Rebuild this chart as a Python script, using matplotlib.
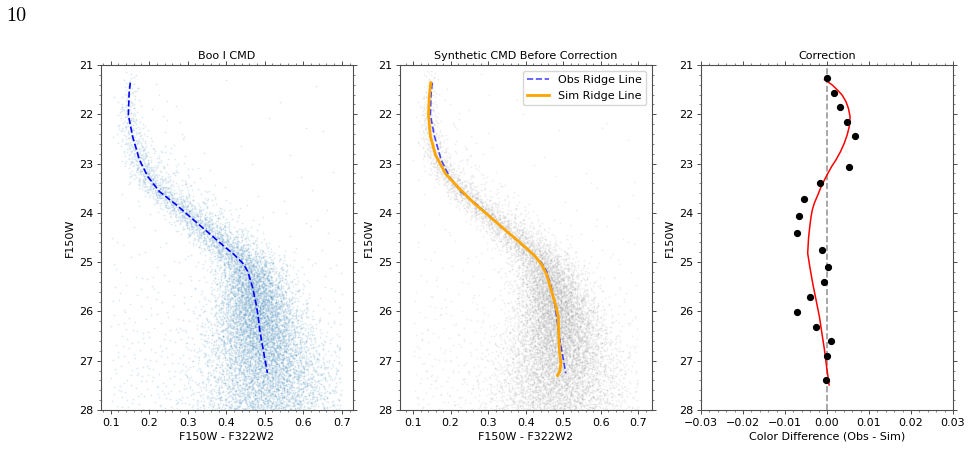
import numpy as np
import matplotlib
matplotlib.use("Agg")
import matplotlib.pyplot as plt
from matplotlib.ticker import AutoMinorLocator, MultipleLocator

# ---------------- data ----------------
obs_ridge_color = [0.151, 0.148, 0.146, 0.157, 0.175, 0.197, 0.227, 0.271, 0.306, 0.346,
                   0.371, 0.396, 0.421, 0.443, 0.456, 0.469, 0.478, 0.483, 0.487, 0.496, 0.507]
obs_ridge_mag = [21.36, 21.57, 22.01, 22.45, 22.93, 23.27, 23.57, 23.84, 24.08, 24.35,
                 24.52, 24.69, 24.85, 25.02, 25.19, 25.53, 25.87, 26.11, 26.38, 26.78, 27.25]

sim_ridge_color = [0.147, 0.143, 0.141, 0.146, 0.160, 0.186, 0.222, 0.262, 0.305, 0.346,
                   0.372, 0.398, 0.424, 0.443, 0.456, 0.468, 0.481, 0.487, 0.488, 0.490,
                   0.494, 0.491, 0.485]
sim_ridge_mag = [21.36, 21.64, 22.01, 22.45, 22.83, 23.20, 23.50, 23.80, 24.08, 24.35,
                 24.52, 24.69, 24.87, 25.05, 25.25, 25.56, 25.90, 26.11, 26.38, 26.78,
                 27.05, 27.22, 27.30]

corr_mag = [21.26, 21.56, 21.86, 22.16, 22.45, 23.07, 23.39, 23.72, 24.06, 24.41,
            24.75, 25.09, 25.41, 25.71, 26.01, 26.31, 26.61, 26.91, 27.40]
corr_diff = [0.0000, 0.0017, 0.0032, 0.0047, 0.0067, 0.0053, -0.0017, -0.0055, -0.0066, -0.0072,
             -0.0012, 0.0003, -0.0006, -0.0040, -0.0071, -0.0027, 0.0010, -0.0001, -0.0002]

fit_mag = [21.30, 21.34, 21.41, 21.51, 21.61, 21.74, 21.88, 22.05, 22.25, 22.42, 22.59,
           22.76, 22.93, 23.06, 23.20, 23.33, 23.47, 23.64, 23.80, 23.94, 24.08, 24.28,
           24.52, 24.82, 25.09, 25.43, 25.77, 26.11, 26.45, 26.78, 27.12, 27.49]
fit_diff = [-0.0006, 0.0002, 0.0013, 0.0025, 0.0036, 0.0045, 0.0051, 0.0055, 0.0053, 0.0048,
            0.0041, 0.0032, 0.0021, 0.0011, 0.0002, -0.0006, -0.0014, -0.0022, -0.0030, -0.0035,
            -0.0038, -0.0041, -0.0044, -0.0046, -0.0041, -0.0034, -0.0026, -0.0018, -0.0012,
            -0.0006, -0.0001, 0.0005]

# star-cloud description (stars per magnitude and colour spread)
cloud_mag = [21.1, 21.5, 22.0, 22.5, 23.0, 23.5, 24.0, 24.5, 25.0, 25.5, 26.0, 26.5, 27.0, 27.5, 28.0]
obs_density = [20, 60, 120, 200, 320, 480, 600, 780, 1250, 1900, 2400, 2500, 2300, 2000, 1800]
obs_sigma = [0.010, 0.013, 0.016, 0.018, 0.020, 0.022, 0.026, 0.032, 0.038, 0.045, 0.055,
             0.065, 0.075, 0.085, 0.095]
obs_red_density = [2, 6, 15, 30, 70, 130, 190, 230, 200, 120, 30, 0, 0, 0, 0]
obs_field_density = [4, 5, 8, 10, 14, 20, 30, 45, 70, 100, 140, 180, 220, 250, 250]

sim_density = [40, 90, 160, 240, 360, 500, 620, 800, 1250, 1900, 2400, 2500, 2300, 2000, 1800]
sim_sigma = [0.008, 0.010, 0.013, 0.016, 0.019, 0.022, 0.026, 0.032, 0.038, 0.045, 0.055,
             0.065, 0.075, 0.085, 0.095]
sim_red_density = [2, 6, 15, 30, 60, 110, 160, 190, 160, 100, 30, 0, 0, 0, 0]
sim_field_density = [4, 5, 8, 10, 14, 20, 30, 45, 70, 100, 140, 180, 220, 250, 250]


# ---------------- deterministic (Halton) layout of the star clouds ----------------
def halton(idx, base):
    idx = np.asarray(idx, dtype=np.int64).copy()
    f = np.ones(idx.shape)
    r = np.zeros(idx.shape)
    while np.any(idx > 0):
        f = f / base
        r = r + f * (idx % base)
        idx = idx // base
    return r


def mags_from_density(u, dens):
    grid = np.linspace(cloud_mag[0], cloud_mag[-1], 800)
    d = np.interp(grid, cloud_mag, dens)
    cdf = np.concatenate([[0], np.cumsum(0.5 * (d[1:] + d[:-1]) * np.diff(grid))])
    return np.interp(u * cdf[-1], cdf, grid)


def count_of(dens):
    return int(np.trapezoid(dens, cloud_mag))


def build_cloud(ridge_c, ridge_m, dens, sig, red_dens, field_dens, start, lo_c=0.1, hi_c=0.7):
    out_c, out_m = [], []
    for comp, d in enumerate((dens, red_dens, field_dens)):
        n = count_of(d)
        k = np.arange(start + comp * 40000, start + comp * 40000 + n)
        u0, u1, u2 = halton(k, 2), halton(k, 3), halton(k, 5)
        m = mags_from_density(u0, d)
        base = np.interp(m, ridge_m, ridge_c)
        z = np.sqrt(-2 * np.log(np.clip(u1, 1e-6, 1))) * np.cos(2 * np.pi * u2)
        if comp == 0:
            c = base + np.interp(m, cloud_mag, sig) * z
        elif comp == 1:
            c = base + 0.06 + 0.04 * z
        else:
            c = lo_c + (hi_c - lo_c) * halton(k, 7)
        out_c.append(c)
        out_m.append(m)
    c = np.concatenate(out_c)
    m = np.concatenate(out_m)
    keep = (c >= lo_c) & (c <= hi_c)
    return c[keep], m[keep]


obs_c, obs_m = build_cloud(obs_ridge_color, obs_ridge_mag, obs_density, obs_sigma,
                           obs_red_density, obs_field_density, 20)
sim_c, sim_m = build_cloud(sim_ridge_color, sim_ridge_mag, sim_density, sim_sigma,
                           sim_red_density, sim_field_density, 150000)

# ---------------- figure ----------------
FS = 8
plt.rcParams.update({"font.size": FS, "axes.edgecolor": "0.3", "xtick.color": "0.3",
                     "ytick.color": "0.3", "xtick.labelcolor": "black",
                     "ytick.labelcolor": "black", "axes.linewidth": 0.8})

fig = plt.figure(figsize=(9.7, 4.69), dpi=100)
W, H = 970.0, 469.0
bottom = (H - 410) / H
height = 345 / H
lefts = [101, 400, 701]
width = 252 / W
axes = [fig.add_axes([l / W, bottom, width, height]) for l in lefts]

fig.text(6 / W, 1 - 20.7 / H, "10", fontfamily="cmr10", fontsize=14.5, va="baseline", ha="left")

ax1, ax2, ax3 = axes

ax1.scatter(obs_c, obs_m, s=1.6, color="#1f77b4", alpha=0.16, linewidths=0, rasterized=True)
ax1.plot(obs_ridge_color, obs_ridge_mag, "--", color="blue", lw=1.2)
ax1.set_xlim(0.075, 0.729)
ax1.set_title("Boo I CMD", fontsize=FS, pad=4)

ax2.scatter(sim_c, sim_m, s=1.6, color="gray", alpha=0.14, linewidths=0, rasterized=True)
ax2.plot(obs_ridge_color, obs_ridge_mag, "--", color="blue", lw=1.2, alpha=0.7,
         label="Obs Ridge Line")
ax2.plot(sim_ridge_color, sim_ridge_mag, "-", color="orange", lw=2, label="Sim Ridge Line")
ax2.set_xlim(0.065, 0.737)
ax2.set_title("Synthetic CMD Before Correction", fontsize=FS, pad=4)
ax2.legend(loc="upper right", fontsize=FS)

ax3.axvline(0, color="gray", ls="--", lw=1.2, alpha=0.8)
ax3.plot(fit_diff, fit_mag, "-", color="red", lw=1.1)
ax3.plot(corr_diff, corr_mag, "o", color="black", ms=4.2)
ax3.set_xlim(-0.03, 0.03)
ax3.xaxis.set_major_locator(MultipleLocator(0.01))
ax3.set_title("Correction", fontsize=FS, pad=4)
ax3.set_xlabel("Color Difference (Obs - Sim)", labelpad=3)

for ax in (ax1, ax2):
    ax.xaxis.set_major_locator(MultipleLocator(0.1))
    ax.set_xlabel("F150W - F322W2", labelpad=3)

for ax in axes:
    ax.set_ylim(28, 21)
    ax.yaxis.set_major_locator(MultipleLocator(1))
    ax.set_ylabel("F150W", labelpad=3)
    ax.xaxis.set_minor_locator(AutoMinorLocator())
    ax.yaxis.set_minor_locator(AutoMinorLocator())
    ax.tick_params(which="both", top=True, right=True, direction="out", pad=2.8)
    ax.tick_params(which="major", length=2.8, width=0.7)
    ax.tick_params(which="minor", length=1.6, width=0.5)

fig.savefig("out.png", dpi=100)
